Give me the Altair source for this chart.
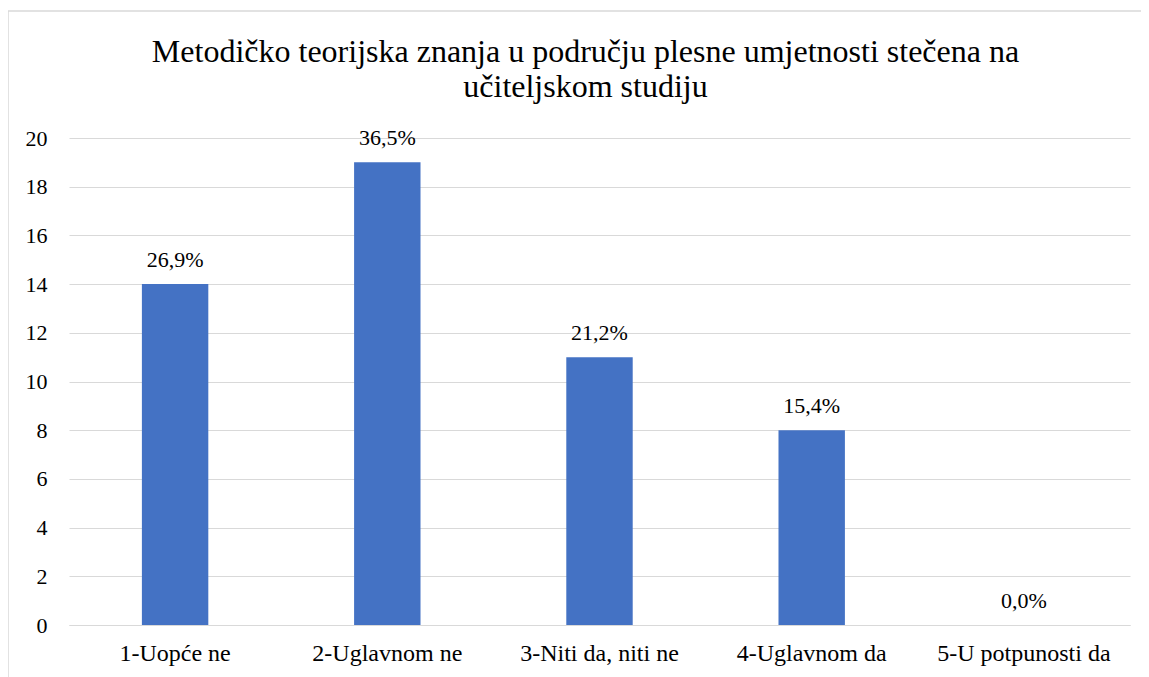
import altair as alt
import pandas as pd

categories = ["1-Uopće ne", "2-Uglavnom ne", "3-Niti da, niti ne", "4-Uglavnom da", "5-U potpunosti da"]
counts = [14, 19, 11, 8, 0]
percent_labels = ["26,9%", "36,5%", "21,2%", "15,4%", "0,0%"]
y_ticks = [0, 2, 4, 6, 8, 10, 12, 14, 16, 18, 20]
title_lines = ["Metodičko teorijska znanja u području plesne umjetnosti stečena na", "učiteljskom studiju"]

df = pd.DataFrame({"cat": categories, "n": counts, "lab": percent_labels})

FONT = "Liberation Serif"
W, H = 1061, 487

x_enc = alt.X("cat:N", sort=categories, title=None,
              scale=alt.Scale(paddingInner=0.687, paddingOuter=0.3435),
              axis=alt.Axis(labelAngle=0, ticks=False, labelPadding=16, domainColor="#d9d9d9",
                            labelLimit=400,
                            labelFont=FONT, labelFontSize=24, labelColor="black", grid=False))
y_enc = alt.Y("n:Q", title=None, scale=alt.Scale(domain=[0, 20], nice=False),
              axis=alt.Axis(values=y_ticks, ticks=False, domain=False, labelPadding=22,
                            gridColor="#d9d9d9", gridWidth=1,
                            labelFont=FONT, labelFontSize=22, labelColor="black"))

bars = alt.Chart(df).mark_bar(color="#4472C4").encode(x=x_enc, y=y_enc)
labels = alt.Chart(df).mark_text(font=FONT, fontSize=22, color="black", baseline="alphabetic", dy=-17).encode(
    x=alt.X("cat:N", sort=categories), y="n:Q", text="lab:N")

border = alt.Chart(pd.DataFrame({"a": [0]})).mark_rect(filled=False, stroke="#d9d9d9", strokeWidth=1.5).encode(
    x=alt.value(-61), x2=alt.value(W + 40), y=alt.value(-127), y2=alt.value(H + 80))

chart = alt.layer(bars, labels, border).properties(
    width=W, height=H,
    autosize=alt.AutoSizeParams(type="none"),
    padding={"left": 61, "top": 130, "right": 11, "bottom": 52},
    title=alt.TitleParams(text=title_lines, font=FONT, fontSize=32, fontWeight="normal", color="black",
                          anchor="middle", dx=-14, offset=-94, lineHeight=35),
).configure_view(stroke=None)

chart.save("out.html", embed_options={"renderer": "svg", "actions": False})
